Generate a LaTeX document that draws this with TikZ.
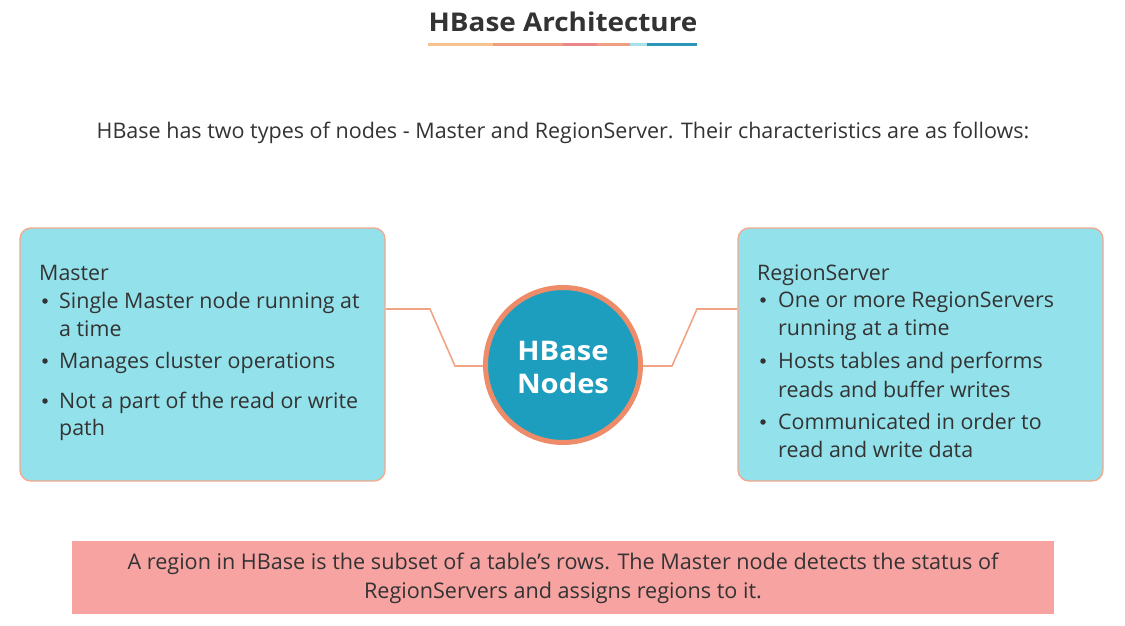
\documentclass[tikz,border=0pt]{standalone}
\usepackage{fontspec}
\setmainfont{Open Sans}
\newfontfamily\widefont[FakeStretch=1.08]{Open Sans}
\definecolor{boxfill}{HTML}{93E1EA}
\definecolor{boxline}{HTML}{F2A98E}
\definecolor{circfill}{HTML}{1E9EBF}
\definecolor{circline}{HTML}{EE8B69}
\definecolor{conn}{HTML}{F0A584}
\definecolor{pinkfill}{HTML}{F7A3A2}
\definecolor{txt}{HTML}{333333}
\definecolor{ulA}{HTML}{F6C38E}
\definecolor{ulB}{HTML}{EE9F82}
\definecolor{ulC}{HTML}{EA8688}
\definecolor{ulD}{HTML}{A9E1EA}
\definecolor{ulE}{HTML}{2B97B8}
\begin{document}
\begin{tikzpicture}[x=1pt,y=-1pt,
  infobox/.style={draw=boxline,line width=1.3pt,fill=boxfill,rounded corners=11pt,inner sep=0pt},
  line/.style={anchor=base west,inner sep=0pt,text=txt,font=\fontsize{21.4}{24}\selectfont},
  dot/.style={circle,fill=txt,inner sep=0pt,minimum size=5.5pt},
  connector/.style={draw=conn,line width=1.6pt},
  ulseg/.style={line width=3pt}]
\useasboundingbox (0,0) rectangle (1125,626);
\fill[white] (0,0) rectangle (1125,626);
% title
\node[anchor=base,inner sep=0pt,text=txt,font=\widefont\fontsize{25.8}{28}\selectfont\bfseries] (title) at (563,32) {HBase Architecture};
\draw[ulseg,ulA] (428,45) -- (493,45);
\draw[ulseg,ulB] (493,45) -- (563,45);
\draw[ulseg,ulC] (563,45) -- (597,45);
\draw[ulseg,ulB] (597,45) -- (630,45);
\draw[ulseg,ulD] (630,45) -- (647,45);
\draw[ulseg,ulE] (647,45) -- (697,45);
% subtitle
\node[anchor=base,inner sep=0pt,text=txt,font=\fontsize{21.5}{24}\selectfont] (sub) at (563,138) {HBase has two types of nodes - Master and RegionServer. Their characteristics are as follows:};
% boxes
\node[infobox,minimum width=365pt,minimum height=253pt] (master) at (202.5,354.5) {};
\node[infobox,minimum width=365pt,minimum height=253pt] (region) at (920.5,354.5) {};
% circle
\node[circle,draw=circline,line width=5pt,fill=circfill,minimum size=155pt,inner sep=0pt] (hub) at (563,365) {};
\node[anchor=base,inner sep=0pt,text=white,font=\widefont\fontsize{27}{30}\selectfont\bfseries] (hubA) at (563,360) {HBase};
\node[anchor=base,inner sep=0pt,text=white,font=\widefont\fontsize{27}{30}\selectfont\bfseries] (hubB) at (563,393) {Nodes};
% connectors
\coordinate (lA) at (430,309);
\coordinate (lB) at (455,366);
\coordinate (rA) at (672,366);
\coordinate (rB) at (697,309);
\draw[connector] (master.east |- lA) -- (lA) -- (lB) -- (hub.west |- lB);
\draw[connector] (hub.east |- rA) -- (rA) -- (rB) -- (region.west |- rB);
% master text
\node[line] (m0) at (39,280) {Master};
\node[dot] (md1) at (45,301) {};
\node[line] (m1) at (59,308) {Single Master node running at};
\node[line] (m2) at (59,336) {a time};
\node[dot] (md2) at (45,361) {};
\node[line] (m3) at (59,368) {Manages cluster operations};
\node[dot] (md3) at (45,401) {};
\node[line] (m4) at (59,408) {Not a part of the read or write};
\node[line] (m5) at (59,435) {path};
% region text
\node[line] (r0) at (757,280) {RegionServer};
\node[dot] (rd1) at (763,300) {};
\node[line] (r1) at (778,307) {One or more RegionServers};
\node[line] (r2) at (778,335) {running at a time};
\node[dot] (rd2) at (763,361) {};
\node[line] (r3) at (778,368) {Hosts tables and performs};
\node[line] (r4) at (778,397) {reads and buffer writes};
\node[dot] (rd3) at (763,422) {};
\node[line] (r5) at (778,429) {Communicated in order to};
\node[line] (r6) at (778,457) {read and write data};
% bottom note
\node[fill=pinkfill,minimum width=982pt,minimum height=73pt,inner sep=0pt] (note) at (563,577.5) {};
\node[anchor=base,inner sep=0pt,text=txt,font=\fontsize{21.6}{24}\selectfont] (n1) at (563,569) {A region in HBase is the subset of a table’s rows. The Master node detects the status of};
\node[anchor=base,inner sep=0pt,text=txt,font=\fontsize{21.6}{24}\selectfont] (n2) at (563,598) {RegionServers and assigns regions to it.};
\end{tikzpicture}
\end{document}
